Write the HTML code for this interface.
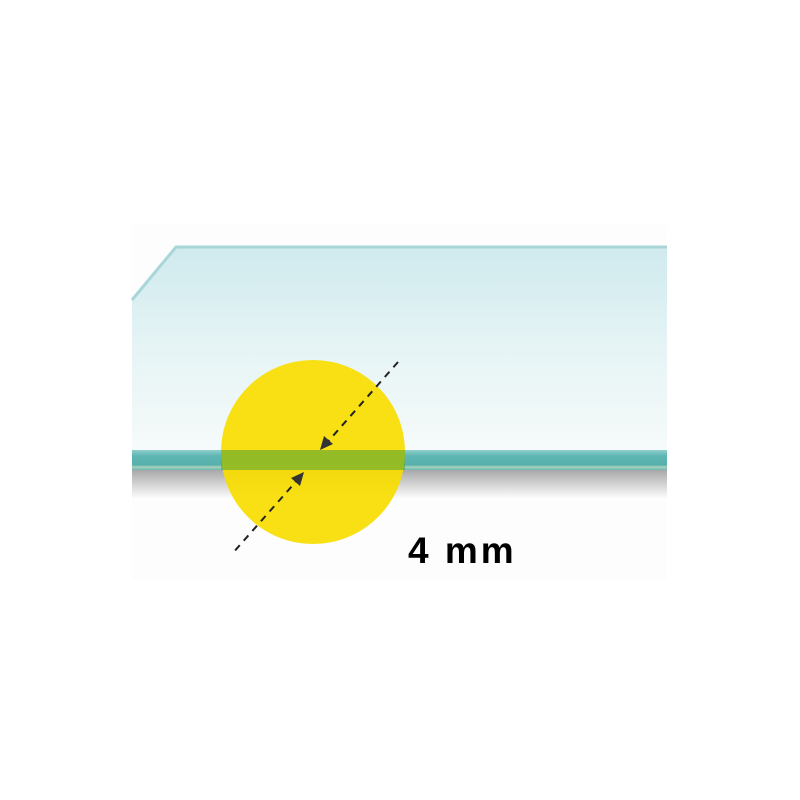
<!DOCTYPE html>
<html><head><meta charset="utf-8"><style>
html,body{margin:0;padding:0;background:#fff;width:800px;height:800px;overflow:hidden}
</style></head><body>
<svg width="800" height="800" viewBox="0 0 800 800">
<defs>
<linearGradient id="face" x1="0" y1="0" x2="0" y2="1">
<stop offset="0" stop-color="#cfeaee"/><stop offset="0.5" stop-color="#e6f4f5"/><stop offset="1" stop-color="#f6fafa"/>
</linearGradient>
<linearGradient id="shadow" x1="0" y1="0" x2="0" y2="1">
<stop offset="0" stop-color="#a9a9a9"/><stop offset="1" stop-color="#fcfcfc"/>
</linearGradient>
<linearGradient id="edge" x1="0" y1="0" x2="0" y2="1">
<stop offset="0" stop-color="#8fcfcc"/><stop offset="0.3" stop-color="#5db6b2"/><stop offset="0.75" stop-color="#58b0ac"/><stop offset="0.85" stop-color="#a9d3b9"/><stop offset="1" stop-color="#6bb7b6"/>
</linearGradient>
</defs>
<rect x="132" y="225" width="535" height="355" fill="#fdfdfd"/>
<polygon points="176,247 667,247 667,450 132,450 132,300" fill="url(#face)"/>
<polyline points="132,300 176,247 667,247" fill="none" stroke="#a9d6d8" stroke-width="3"/>
<rect x="132" y="470" width="535" height="28" fill="url(#shadow)"/>
<rect x="132" y="450" width="535" height="20" fill="url(#edge)"/>
<circle cx="313" cy="452" r="92" fill="#f9dd00" fill-opacity="0.92"/>
<rect x="221" y="450" width="184" height="20" fill="#4aa23a" fill-opacity="0.55"/>
<line x1="398" y1="362" x2="325" y2="445" stroke="#222" stroke-width="2" stroke-dasharray="7,6"/>
<polygon points="320,450 324,436 333,444" fill="#333"/>
<line x1="300" y1="477" x2="232" y2="554" stroke="#222" stroke-width="2" stroke-dasharray="7,6"/>
<polygon points="304,472 300,486 291,478" fill="#333"/>
<text x="408" y="563" font-family="Liberation Sans, sans-serif" font-weight="bold" font-size="37" letter-spacing="3" fill="#000">4 mm</text>
</svg>
</body></html>
